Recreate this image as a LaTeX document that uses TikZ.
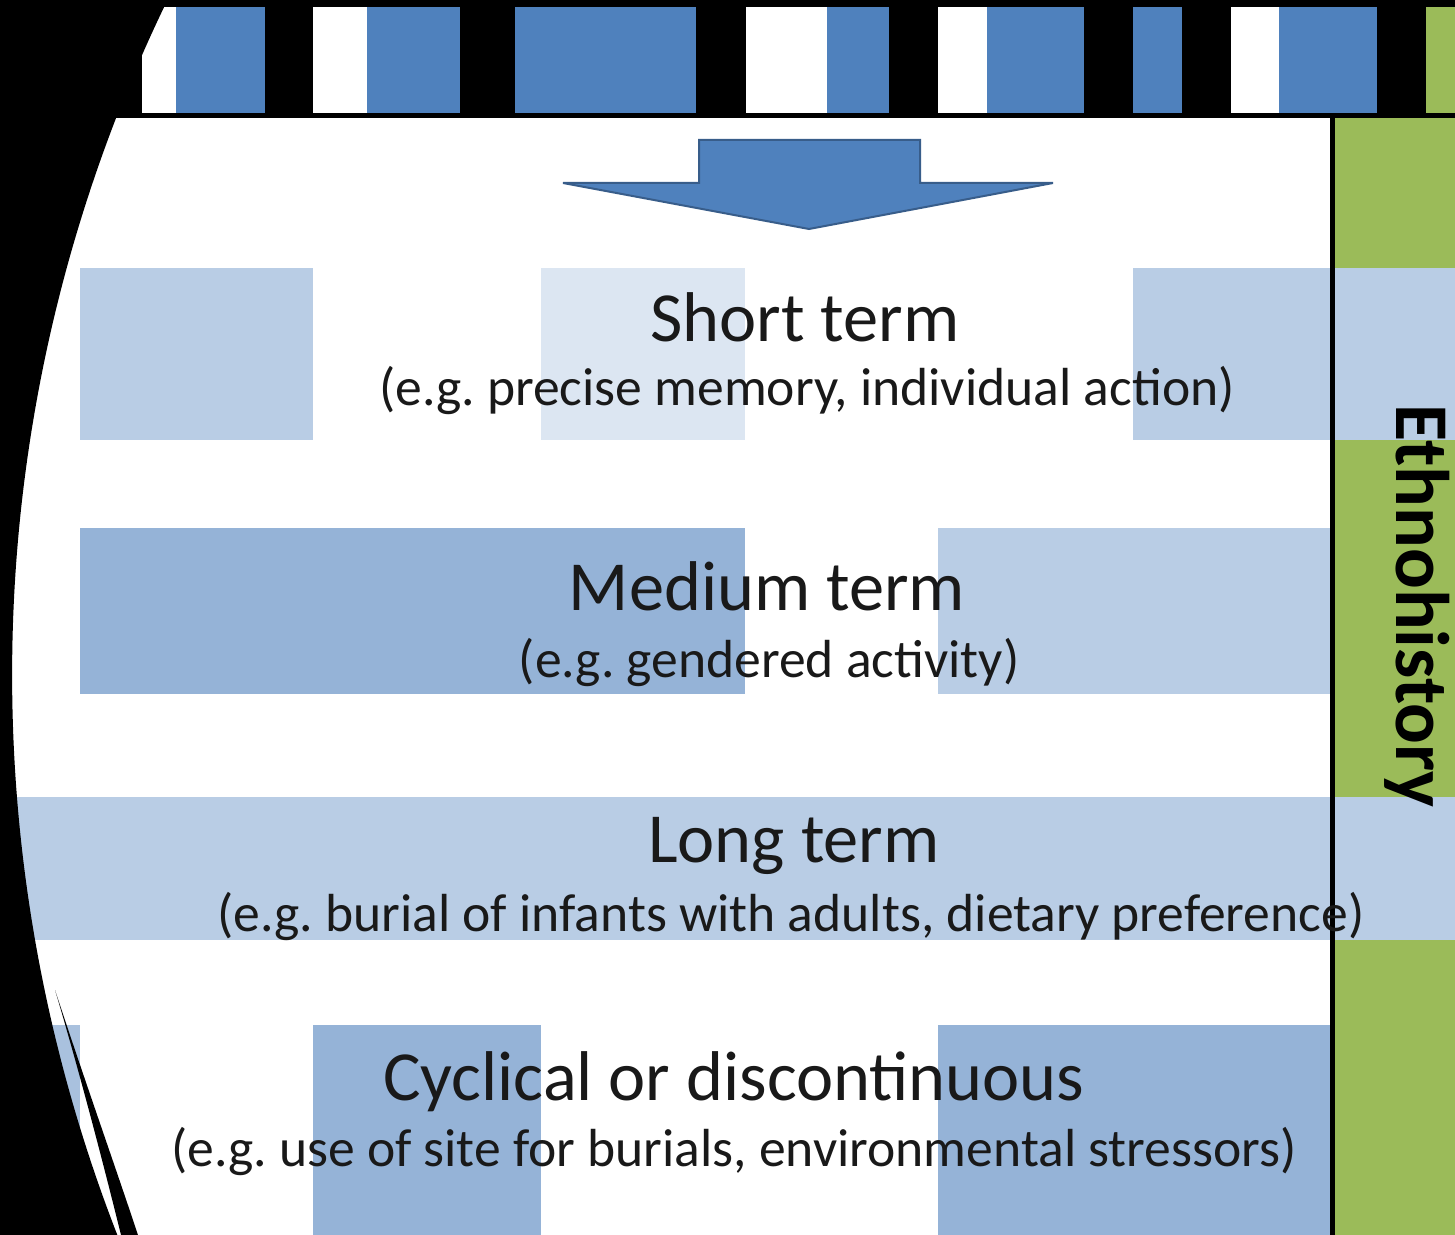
\documentclass[tikz,border=0pt]{standalone}
\usepackage{fontspec}
\setmainfont{Carlito}
\usepackage{tikz}

\definecolor{stripeblue}{HTML}{4F81BD}
\definecolor{arrowedge}{HTML}{385D8A}
\definecolor{paleblue}{HTML}{B9CDE5}
\definecolor{palerblue}{HTML}{DCE6F2}
\definecolor{midblue}{HTML}{95B3D7}
\definecolor{sideblue}{HTML}{A9C1DE}
\definecolor{ethnogreen}{HTML}{9BBB59}

\begin{document}
\begin{tikzpicture}[x=0.5pt,y=-0.5pt]
	\tikzstyle{title}=[font=\fontsize{35.2}{40}\selectfont,text=black!90,anchor=base,inner sep=0pt]
	\tikzstyle{example}=[font=\fontsize{26.8}{32}\selectfont,text=black!90,anchor=base,inner sep=0pt]
	\tikzstyle{stripe}=[fill=stripeblue]
	\tikzstyle{gap}=[fill=white]
	\clip (0,0) rectangle (1455,1235);
	\fill[white] (0,0) rectangle (1455,1235);
	% rows
	\fill[paleblue] (80,268) rectangle (313,440);
	\fill[palerblue] (541,268) rectangle (745,440);
	\fill[midblue] (80,528) rectangle (745,694);
	\fill[paleblue] (938,528) rectangle (1330,694);
	\fill[sideblue] (0,1025) rectangle (80,1235);
	\fill[midblue] (313,1025) rectangle (541,1235);
	\fill[midblue] (938,1025) rectangle (1330,1235);
	% ethnohistory column
	\fill[ethnogreen] (1334,118) rectangle (1455,1235);
	\fill[paleblue] (1133,268) rectangle (1455,440);
	\fill[paleblue] (0,797) rectangle (1455,940);
	\draw[line width=2.5pt] (1332,118) -- (1332,1235);
	% top band
	\fill[black] (100,0) rectangle (1455,118);
	\fill[gap] (142,7) rectangle (176,113);
	\fill[stripe] (176,7) rectangle (265,113);
	\fill[gap] (313,7) rectangle (367,113);
	\fill[stripe] (367,7) rectangle (460,113);
	\fill[stripe] (515,7) rectangle (696,113);
	\fill[gap] (746,7) rectangle (827,113);
	\fill[stripe] (827,7) rectangle (889,113);
	\fill[gap] (938,7) rectangle (987,113);
	\fill[stripe] (987,7) rectangle (1084,113);
	\fill[stripe] (1133,7) rectangle (1182,113);
	\fill[gap] (1231,7) rectangle (1279,113);
	\fill[stripe] (1279,7) rectangle (1377,113);
	\fill[ethnogreen] (1426,7) rectangle (1455,113);
	% down arrow
	\filldraw[fill=stripeblue,draw=arrowedge,line width=1pt] (699,140) -- (920,140) -- (920,183) -- (1053,183) -- (809,229) -- (563,183) -- (699,183) -- cycle;
	% black edge on the left
	\fill[black] (0,0) -- (167.5,0) arc[start angle=205.94, end angle=158.72, radius=1543] -- (0,1235) -- cycle;
	\fill[black] (55,990) .. controls (88,1090) and (113,1160) .. (138,1235) -- (121,1235) .. controls (100,1150) and (76,1060) .. (55,990) -- cycle;
	% labels
	\node[title](short) at (805,342) {Short term};
	\node[example](shortex) at (807,406) {(e.g.\ precise memory, individual action)};
	\node[title](medium) at (767,610) {Medium term};
	\node[example](mediumex) at (769,677) {(e.g.\ gendered activity)};
	\node[title](long) at (794,862) {Long term};
	\node[example](longex) at (791,931) {(e.g.\ burial of infants with adults, dietary preference)};
	\node[title](cyclic) at (734,1100) {Cyclical or discontinuous};
	\node[example](cyclicex) at (734,1166) {(e.g.\ use of site for burials, environmental stressors)};
	\node[font=\fontsize{38}{44}\selectfont\bfseries,rotate=-90,anchor=base,inner sep=0pt](ethno) at (1396,606) {Ethnohistory};
\end{tikzpicture}
\end{document}
